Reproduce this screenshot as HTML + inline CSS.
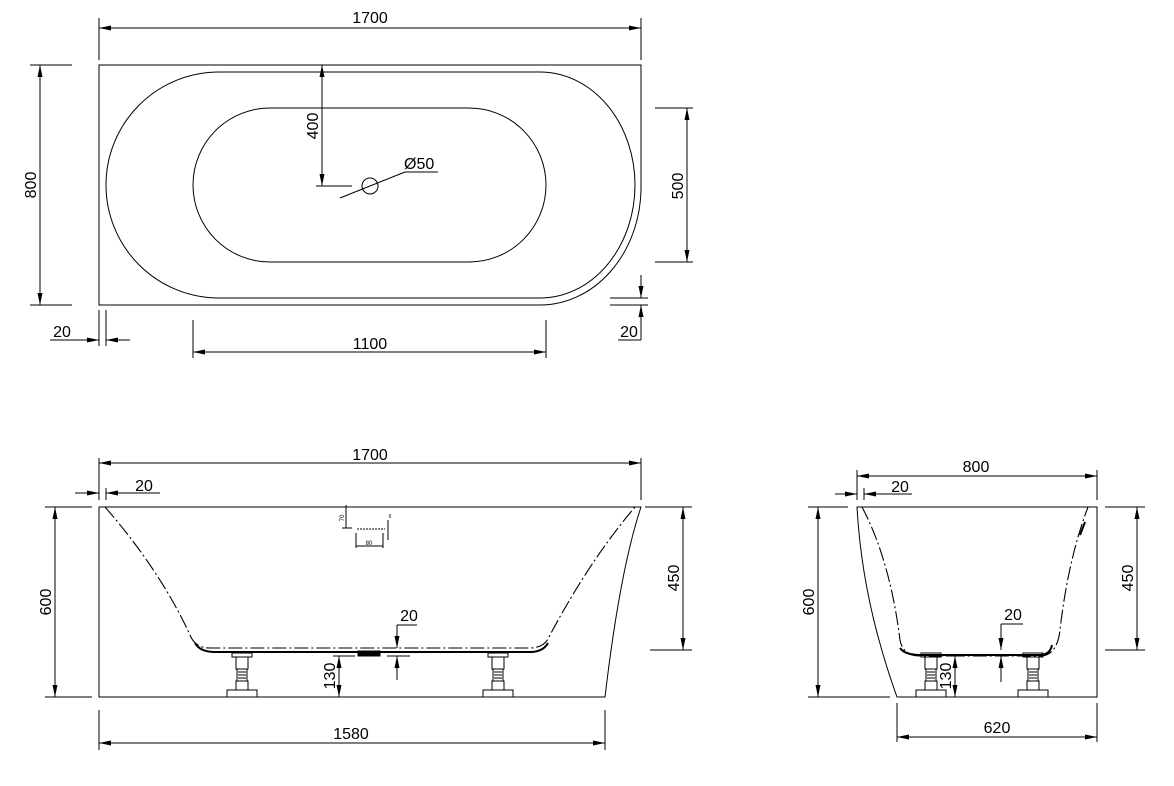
<!DOCTYPE html>
<html><head><style>
body{margin:0;background:#fff;}
svg{display:block;font-family:"Liberation Sans",sans-serif;}
text{font-size:16px;fill:#000;}
</style></head><body>
<svg width="1174" height="786" viewBox="0 0 1174 786" xmlns="http://www.w3.org/2000/svg">
<defs>
<marker id="a" viewBox="0 0 12 5" refX="12" refY="2.5" markerWidth="12" markerHeight="5" orient="auto-start-reverse" markerUnits="userSpaceOnUse"><path d="M0,0 L12,2.5 L0,5z" fill="#000"/></marker>
</defs>
<g stroke="#000" stroke-width="1" fill="none">
<!-- TOP VIEW -->
<path d="M641,190 L641,65 L99,65 L99,305 L540,305 A101,118 0 0 0 641,190"/>
<path d="M219,72 L540,72 A95,113 0 0 1 540,298 L219,298 A113,113 0 0 1 219,72 Z"/>
<path d="M270,108 L469,108 A77,77 0 0 1 469,262 L270,262 A77,77 0 0 1 270,108 Z"/>
<circle cx="370" cy="186" r="8"/>
<line x1="340" y1="198" x2="405" y2="172"/><line x1="405" y1="172" x2="438" y2="172"/>
<line x1="99" y1="18" x2="99" y2="60"/><line x1="641" y1="18" x2="641" y2="60"/>
<line x1="99" y1="28" x2="641" y2="28" marker-start="url(#a)" marker-end="url(#a)"/>
<line x1="30" y1="65" x2="72" y2="65"/><line x1="30" y1="305" x2="72" y2="305"/>
<line x1="40" y1="65" x2="40" y2="305" marker-start="url(#a)" marker-end="url(#a)"/>
<line x1="322" y1="65" x2="322" y2="186" marker-start="url(#a)" marker-end="url(#a)"/>
<line x1="316" y1="186" x2="352" y2="186"/>
<line x1="655" y1="108" x2="693" y2="108"/><line x1="655" y1="262" x2="693" y2="262"/>
<line x1="687" y1="108" x2="687" y2="262" marker-start="url(#a)" marker-end="url(#a)"/>
<line x1="193" y1="320" x2="193" y2="358"/><line x1="546" y1="320" x2="546" y2="358"/>
<line x1="193" y1="352" x2="546" y2="352" marker-start="url(#a)" marker-end="url(#a)"/>
<line x1="99" y1="310" x2="99" y2="346"/><line x1="106" y1="310" x2="106" y2="346"/>
<line x1="85" y1="340" x2="99" y2="340" marker-end="url(#a)"/><line x1="130" y1="340" x2="106" y2="340" marker-end="url(#a)"/>
<line x1="50" y1="340" x2="99" y2="340"/>
<line x1="610" y1="298" x2="648" y2="298"/><line x1="610" y1="305" x2="648" y2="305"/>
<line x1="641" y1="275" x2="641" y2="298" marker-end="url(#a)"/><line x1="641" y1="340" x2="641" y2="305" marker-end="url(#a)"/>
<line x1="618" y1="340" x2="641" y2="340"/>

<!-- FRONT VIEW -->
<path d="M99,507 L641,507 Q620,570 605,697 L99,697 Z"/>
<path d="M105,507 Q160,570 190,635 Q195,648 210,648 L530,648 Q545,648 550,635 Q590,560 635,507" stroke-dasharray="14,3,2,3" stroke-width="1.1"/>
<path d="M195,643 Q200,652 215,652 L530,652 Q543,652 548,643" stroke-width="2"/>
<rect x="358" y="651" width="22" height="5" fill="#000"/>
<g id="foot1">
<rect x="232" y="653" width="20" height="4"/>
<rect x="236" y="657" width="12" height="12"/>
<rect x="237" y="669" width="10" height="12"/>
<line x1="238" y1="672" x2="246" y2="672"/><line x1="238" y1="675" x2="246" y2="675"/><line x1="238" y1="678" x2="246" y2="678"/>
<rect x="236" y="681" width="12" height="9"/>
<rect x="227" y="690" width="30" height="7"/>
</g>
<use href="#foot1" transform="translate(256,0)"/>
<line x1="346" y1="505" x2="346" y2="528"/><line x1="342" y1="528" x2="352" y2="528"/>
<line x1="357" y1="529" x2="385" y2="529" stroke-dasharray="2,1"/>
<line x1="356" y1="533" x2="356" y2="548"/><line x1="383" y1="533" x2="383" y2="548"/>
<line x1="356" y1="546" x2="383" y2="546"/>
<line x1="388" y1="520" x2="388" y2="540"/>
<line x1="99" y1="458" x2="99" y2="500"/><line x1="641" y1="458" x2="641" y2="500"/>
<line x1="99" y1="463" x2="641" y2="463" marker-start="url(#a)" marker-end="url(#a)"/>
<line x1="106" y1="488" x2="106" y2="500"/>
<line x1="75" y1="493" x2="99" y2="493" marker-end="url(#a)"/><line x1="130" y1="493" x2="106" y2="493" marker-end="url(#a)"/>
<line x1="106" y1="493" x2="160" y2="493"/>
<line x1="45" y1="507" x2="92" y2="507"/><line x1="45" y1="697" x2="92" y2="697"/>
<line x1="55" y1="507" x2="55" y2="697" marker-start="url(#a)" marker-end="url(#a)"/>
<line x1="645" y1="507" x2="692" y2="507"/><line x1="650" y1="650" x2="692" y2="650"/>
<line x1="683" y1="507" x2="683" y2="650" marker-start="url(#a)" marker-end="url(#a)"/>
<line x1="397" y1="625" x2="417" y2="625"/>
<line x1="397" y1="625" x2="397" y2="648" marker-end="url(#a)"/>
<line x1="397" y1="680" x2="397" y2="656" marker-end="url(#a)"/>
<line x1="387" y1="656" x2="410" y2="656"/>
<line x1="333" y1="656" x2="355" y2="656"/>
<line x1="339" y1="656" x2="339" y2="697" marker-start="url(#a)" marker-end="url(#a)"/>
<line x1="99" y1="710" x2="99" y2="750"/><line x1="605" y1="710" x2="605" y2="750"/>
<line x1="99" y1="743" x2="605" y2="743" marker-start="url(#a)" marker-end="url(#a)"/>

<!-- SIDE VIEW -->
<path d="M857,507 L1097,507 L1097,697 L897,697 Q862,600 857,507 Z"/>
<path d="M862,507 Q890,560 900,640 Q903,656 920,656 L1040,656 Q1057,656 1060,630 Q1068,560 1088,507" stroke-dasharray="14,3,2,3" stroke-width="1.1"/>
<path d="M900,648 Q905,655 920,655 L1040,655 Q1050,655 1052,645" stroke-width="2"/>
<line x1="1080" y1="535" x2="1085" y2="522" stroke-width="2"/>
<use href="#foot1" transform="translate(689,0)"/>
<use href="#foot1" transform="translate(791,0)"/>
<line x1="857" y1="470" x2="857" y2="500"/><line x1="1097" y1="470" x2="1097" y2="500"/>
<line x1="857" y1="476" x2="1097" y2="476" marker-start="url(#a)" marker-end="url(#a)"/>
<line x1="864" y1="488" x2="864" y2="500"/>
<line x1="835" y1="494" x2="857" y2="494" marker-end="url(#a)"/><line x1="885" y1="494" x2="864" y2="494" marker-end="url(#a)"/>
<line x1="864" y1="494" x2="912" y2="494"/>
<line x1="808" y1="507" x2="848" y2="507"/><line x1="808" y1="697" x2="890" y2="697"/>
<line x1="818" y1="507" x2="818" y2="697" marker-start="url(#a)" marker-end="url(#a)"/>
<line x1="1105" y1="507" x2="1145" y2="507"/><line x1="1105" y1="650" x2="1145" y2="650"/>
<line x1="1137" y1="507" x2="1137" y2="650" marker-start="url(#a)" marker-end="url(#a)"/>
<line x1="1001" y1="624" x2="1023" y2="624"/>
<line x1="1001" y1="624" x2="1001" y2="650" marker-end="url(#a)"/>
<line x1="1001" y1="682" x2="1001" y2="656" marker-end="url(#a)"/>
<line x1="946" y1="656" x2="965" y2="656"/>
<line x1="955" y1="656" x2="955" y2="697" marker-start="url(#a)" marker-end="url(#a)"/>
<line x1="897" y1="703" x2="897" y2="742"/><line x1="1097" y1="703" x2="1097" y2="742"/>
<line x1="897" y1="737" x2="1097" y2="737" marker-start="url(#a)" marker-end="url(#a)"/>
</g>
<g>
<text x="370" y="23" text-anchor="middle">1700</text>
<text transform="translate(36,185) rotate(-90)" text-anchor="middle">800</text>
<text transform="translate(318,126) rotate(-90)" text-anchor="middle">400</text>
<text x="404" y="169">Ø50</text>
<text transform="translate(683,186) rotate(-90)" text-anchor="middle">500</text>
<text x="370" y="349" text-anchor="middle">1100</text>
<text x="62" y="337" text-anchor="middle">20</text>
<text x="629" y="337" text-anchor="middle">20</text>

<text x="370" y="460" text-anchor="middle">1700</text>
<text x="144" y="491" text-anchor="middle">20</text>
<text transform="translate(51,602) rotate(-90)" text-anchor="middle">600</text>
<text transform="translate(679,578) rotate(-90)" text-anchor="middle">450</text>
<text x="409" y="621" text-anchor="middle">20</text>
<text transform="translate(335,676) rotate(-90)" text-anchor="middle">130</text>
<text x="351" y="739" text-anchor="middle">1580</text>
<text transform="translate(344,518) rotate(-90)" text-anchor="middle" style="font-size:6px">70</text>
<text x="369" y="545" text-anchor="middle" style="font-size:6px">80</text>
<text x="390" y="518" text-anchor="middle" style="font-size:5px">6</text>

<text x="976" y="472" text-anchor="middle">800</text>
<text x="900" y="492" text-anchor="middle">20</text>
<text transform="translate(814,602) rotate(-90)" text-anchor="middle">600</text>
<text transform="translate(1133,578) rotate(-90)" text-anchor="middle">450</text>
<text x="1013" y="620" text-anchor="middle">20</text>
<text transform="translate(951,676) rotate(-90)" text-anchor="middle">130</text>
<text x="997" y="733" text-anchor="middle">620</text>
</g>
</svg>
</body></html>
